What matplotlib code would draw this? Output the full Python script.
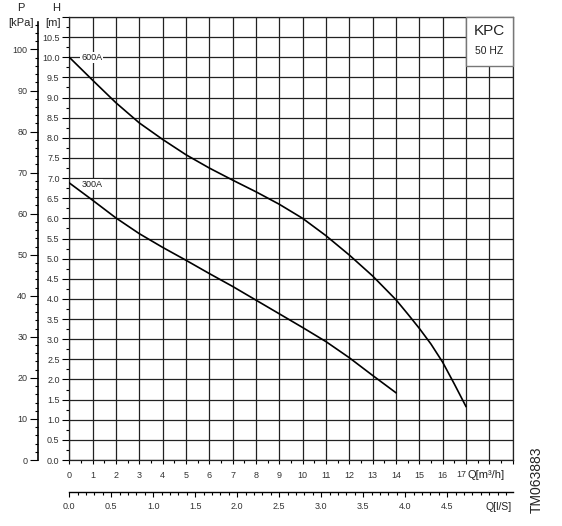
import matplotlib
matplotlib.use("Agg")
import matplotlib.pyplot as plt
from matplotlib.ticker import FixedLocator, MultipleLocator, FormatStrFormatter

plt.rcParams['font.family'] = ['Liberation Sans', 'DejaVu Sans']

# pump curves (Q in m3/h, H in m)
q_600 = [0, 1, 2, 3, 4, 5, 6, 7, 8, 9, 10, 11, 12, 13, 14, 14.5, 15, 15.5, 16, 16.5, 17]
h_600 = [10.0, 9.43, 8.87, 8.37, 7.96, 7.58, 7.25, 6.95, 6.66, 6.35,
         6.0, 5.57, 5.09, 4.57, 3.98, 3.63, 3.27, 2.88, 2.43, 1.89, 1.33]
q_300 = [0, 1, 2, 3, 4, 5, 6, 7, 8, 9, 10, 11, 12, 13, 14]
h_300 = [6.88, 6.45, 6.01, 5.62, 5.28, 4.96, 4.63, 4.31, 3.97, 3.63,
         3.29, 2.94, 2.54, 2.1, 1.67]

q_ticks = list(range(0, 20))
q_labels = [str(q) if q < 17 else '' for q in q_ticks]
h_ticks = [i * 0.5 for i in range(23)]
h_labels = ['%.1f' % h if h < 11 else '' for h in h_ticks]
p_ticks = list(range(0, 101, 10))
ls_ticks = [0.0, 0.5, 1.0, 1.5, 2.0, 2.5, 3.0, 3.5, 4.0, 4.5]

W, H = 562, 526
fig = plt.figure(figsize=(W / 100, H / 100), dpi=100)
x0, x1, y0, y1 = 69.3, 512.6, 460, 17
ax = fig.add_axes([x0 / W, 1 - y0 / H, (x1 - x0) / W, (y0 - y1) / H])

ax.set_xlim(0, 19)
ax.set_ylim(0, 11)
ax.grid(True, which='major', color='#222222', lw=0.9)
for s in ax.spines.values():
    s.set_color('#222222')
    s.set_linewidth(0.9)

ax.plot(q_600, h_600, color='black', lw=1.2, zorder=3)
ax.plot(q_300, h_300, color='black', lw=1.2, zorder=3)

ax.text(0.96, 10.0, '600A', fontsize=6.5, ha='center', va='center', color='#222',
        bbox=dict(facecolor='white', edgecolor='none', pad=0.6), zorder=4)
ax.text(0.96, 6.84, '300A', fontsize=6.5, ha='center', va='center', color='#222',
        bbox=dict(facecolor='white', edgecolor='none', pad=0.6), zorder=4)

# KPC box
ax.add_patch(plt.Rectangle((17, 9.78), 2, 1.22, facecolor='white', edgecolor='#777777',
                           lw=1.0, zorder=5, clip_on=False))
ax.text(18, 10.64, 'KPC', fontsize=11, ha='center', va='center', color='#222', zorder=6)
ax.text(18, 10.15, '50 HZ', fontsize=7.5, ha='center', va='center', color='#222', zorder=6)

ax.xaxis.set_major_locator(FixedLocator(q_ticks))
ax.set_xticklabels(q_labels)
ax.xaxis.set_minor_locator(MultipleLocator(0.5))
ax.yaxis.set_major_locator(FixedLocator(h_ticks))
ax.set_yticklabels(h_labels)
ax.yaxis.set_minor_locator(MultipleLocator(0.25))
ax.tick_params(axis='x', which='major', length=3, width=0.8, pad=5, labelsize=6.5, labelcolor='#333')
ax.tick_params(axis='x', which='minor', length=2.5, width=0.8)
ax.tick_params(axis='y', which='major', length=5, width=0.8, pad=2, labelsize=6.5, labelcolor='#333')
ax.tick_params(axis='y', which='minor', length=2.5, width=0.8)

# pressure axis
px = ax.secondary_yaxis(-31 / (x1 - x0), functions=(lambda h: h * 9.81, lambda p: p / 9.81))
px.yaxis.set_major_locator(FixedLocator(p_ticks))
px.yaxis.set_minor_locator(FixedLocator(list(range(0, 107, 2))))
px.spines['left'].set_bounds(0, 106.6)
px.spines['left'].set_linewidth(1.2)
px.tick_params(which='major', length=6, width=0.8, pad=2, labelsize=6.5, labelcolor='#333')
px.tick_params(which='minor', length=2.5, width=0.8)

# l/s axis
lx = ax.secondary_xaxis(-32 / (y0 - y1), functions=(lambda q: q / 3.6, lambda l: l * 3.6))
lx.xaxis.set_major_locator(FixedLocator(ls_ticks))
lx.xaxis.set_major_formatter(FormatStrFormatter('%.1f'))
lx.xaxis.set_minor_locator(FixedLocator([i * 0.1 for i in range(53)]))
lx.spines['bottom'].set_linewidth(1.0)
lx.tick_params(which='major', length=3.5, width=0.8, pad=4, labelsize=6.5, labelcolor='#333')
lx.tick_params(which='minor', length=2.5, width=0.8)

fig.text(21 / W, 1 - 8 / H, 'P', fontsize=8, ha='center', va='center', color='#222')
fig.text(21 / W, 1 - 23 / H, '[kPa]', fontsize=8, ha='center', va='center', color='#222')
fig.text(56 / W, 1 - 8 / H, 'H', fontsize=8, ha='center', va='center', color='#222')
fig.text(53 / W, 1 - 23 / H, '[m]', fontsize=8, ha='center', va='center', color='#222')
fig.text(466.5 / W, 1 - 474.5 / H, '17', fontsize=6.5, ha='right', va='center', color='#333')
fig.text(468 / W, 1 - 475 / H, 'Q[m³/h]', fontsize=8, ha='left', va='center', color='#222')
fig.text(512 / W, 1 - 507 / H, 'Q[l/S]', fontsize=7.5, ha='right', va='center', color='#222')
fig.text(537 / W, 1 - 480 / H, 'TM063883', fontsize=10, rotation=90,
         ha='center', va='center', color='#222')

fig.savefig('out.png', dpi=100)
